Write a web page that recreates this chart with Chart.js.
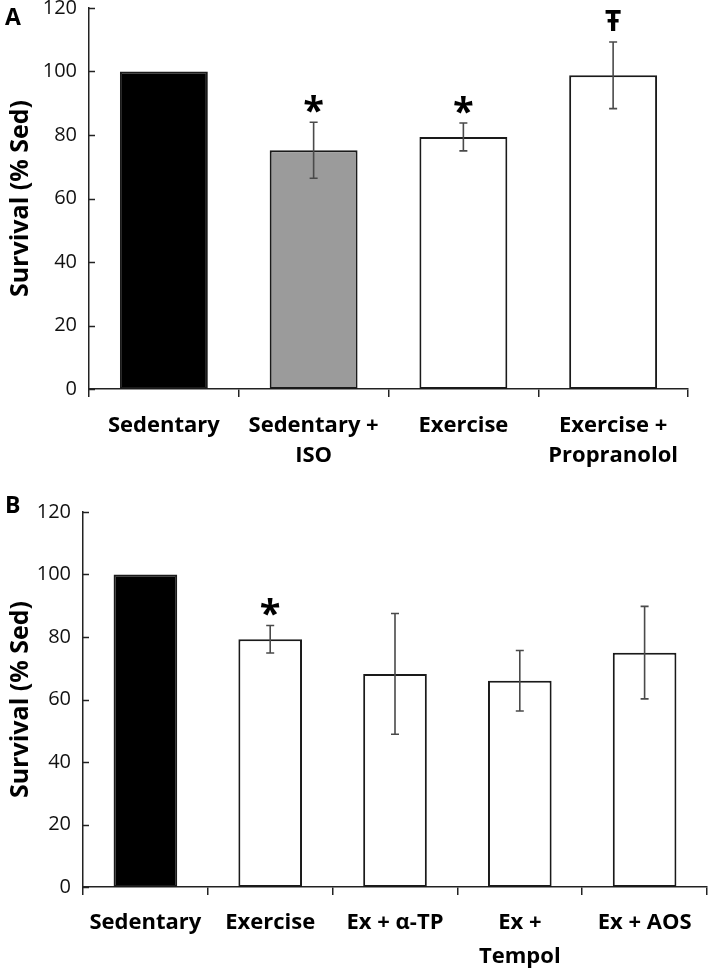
<!DOCTYPE html>
<html lang="en">
  <head>
    <meta charset="UTF-8" />
    <title>Survival (% Sed)</title>
    <style>
      body,
      html {
        margin: 0;
        background: #fff;
      }
      .panel {
        position: absolute;
        left: 0;
      }
      .letter {
        position: absolute;
        left: 5px;
        font: bold 23px "Open Sans", sans-serif;
        color: #000;
      }
    </style>
  </head>
  <body>
    <div class="panel" style="top: 0">
      <canvas id="chartA" width="709" height="470"></canvas>
    </div>
    <div class="panel" style="top: 470px">
      <canvas id="chartB" width="709" height="501"></canvas>
    </div>
    <div class="letter" style="top: 0px">A</div>
    <div class="letter" style="top: 488px">B</div>

    <script src="https://cdn.jsdelivr.net/npm/chart.js"></script>
    <script>
      // Panel A
      const catsA = ["Sedentary", ["Sedentary +", "ISO"], "Exercise", ["Exercise +", "Propranolol"]];
      const valsA = [100, 75.2, 79.4, 98.8];
      const errA = [0, 8.8, 4.4, 10.5];
      const marksA = ["", "*", "*", "Ŧ"];
      const fillA = ["#000000", "#9b9b9b", "#ffffff", "#ffffff"];

      // Panel B
      const catsB = ["Sedentary", "Exercise", "Ex + α-TP", ["Ex +", "Tempol"], "Ex + AOS"];
      const valsB = [100, 79.3, 68.2, 66.0, 75.0];
      const errB = [0, 4.4, 19.3, 9.7, 14.8];
      const marksB = ["", "*", "", "", ""];
      const fillB = ["#000000", "#ffffff", "#ffffff", "#ffffff", "#ffffff"];

      const yTicks = [0, 20, 40, 60, 80, 100, 120];

      // error bars, significance marks and inward y ticks
      const errBars = {
        id: "errbars",
        afterDatasetsDraw(chart, args, opts) {
          const { ctx, scales } = chart;
          const x = scales.x, y = scales.y;
          ctx.save();
          // y ticks pointing into the plot
          ctx.strokeStyle = "#222";
          ctx.lineWidth = 1.5;
          yTicks.forEach((t) => {
            const py = Math.round(y.getPixelForValue(t)) + 0.5;
            ctx.beginPath();
            ctx.moveTo(x.left, py);
            ctx.lineTo(x.left + 6, py);
            ctx.stroke();
          });
          const vals = chart.data.datasets[0].data;
          vals.forEach((v, i) => {
            const px = x.getPixelForValue(i);
            const e = opts.err[i];
            const top = y.getPixelForValue(v + e);
            if (e > 0) {
              const bot = y.getPixelForValue(v - e);
              ctx.strokeStyle = "#4a4a4a";
              ctx.lineWidth = 1.6;
              ctx.beginPath();
              ctx.moveTo(px, top);
              ctx.lineTo(px, bot);
              ctx.moveTo(px - 4, top);
              ctx.lineTo(px + 4, top);
              ctx.moveTo(px - 4, bot);
              ctx.lineTo(px + 4, bot);
              ctx.stroke();
            }
            const m = opts.marks[i];
            if (m) {
              ctx.fillStyle = "#000";
              ctx.textAlign = "center";
              ctx.textBaseline = "middle";
              if (m === "*") {
                ctx.font = 'bold 38px "Open Sans", sans-serif';
                ctx.fillText(m, px, top - 9);
              } else {
                ctx.font = 'bold 28px "Open Sans", sans-serif';
                ctx.fillText(m, px, top - 19);
              }
            }
          });
          ctx.restore();
        },
      };

      function noPad(s) {
        s.paddingTop = 0;
        s.paddingBottom = 0;
        s.paddingLeft = 0;
        s.paddingRight = 0;
      }

      function makeChart(id, cats, vals, fills, err, marks, g) {
        const ctx = document.getElementById(id).getContext("2d");
        return new Chart(ctx, {
          type: "bar",
          data: {
            labels: cats,
            datasets: [
              {
                data: vals,
                backgroundColor: fills,
                borderColor: "#1a1a1a",
                borderWidth: 2,
                borderSkipped: false,
                categoryPercentage: 1,
                barPercentage: g.bar,
              },
            ],
          },
          options: {
            responsive: false,
            animation: false,
            devicePixelRatio: 1,
            layout: { padding: { top: g.top, right: g.right, left: 0, bottom: 0 } },
            plugins: {
              legend: { display: false },
              tooltip: { enabled: false },
              errbars: { err: err, marks: marks },
            },
            scales: {
              x: {
                grid: {
                  display: true,
                  offset: true,
                  drawOnChartArea: false,
                  drawTicks: true,
                  tickLength: 8,
                  color: "#222",
                  lineWidth: 1.5,
                },
                border: { color: "#222", width: 1.5 },
                ticks: {
                  color: "#000",
                  padding: g.pad,
                  maxRotation: 0,
                  autoSkip: false,
                  font: { family: "Open Sans", size: 22, weight: "bold", lineHeight: g.lh },
                },
                afterFit: (s) => {
                  s.height = g.xh;
                  noPad(s);
                },
              },
              y: {
                min: 0,
                max: 120,
                grid: { display: false, drawTicks: false },
                border: { color: "#222", width: 1.5 },
                ticks: {
                  stepSize: 20,
                  color: "#111",
                  padding: 12,
                  font: { family: "Open Sans", size: 20 },
                },
                title: {
                  display: true,
                  text: "Survival (% Sed)",
                  color: "#000",
                  padding: { top: 6 },
                  font: { family: "Open Sans", size: 25, weight: "bold" },
                },
                afterFit: (s) => {
                  s.width = g.yw;
                  noPad(s);
                },
              },
            },
          },
          plugins: [errBars],
        });
      }

      makeChart("chartA", catsA, valsA, fillA, errA, marksA, {
        bar: 0.587, top: 8, right: 21, xh: 81, yw: 89, pad: 13, lh: 1.4,
      });
      makeChart("chartB", catsB, valsB, fillB, errB, marksB, {
        bar: 0.51, top: 42, right: 2, xh: 84, yw: 83, pad: 11, lh: 1.55,
      });
    </script>
  </body>
</html>
